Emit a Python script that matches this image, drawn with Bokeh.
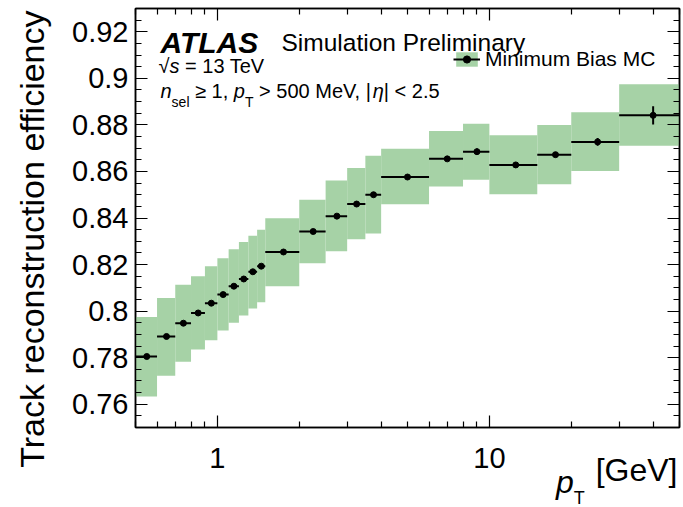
import math
from bokeh.plotting import figure
from bokeh.models import (Label, Legend, LegendItem, FixedTicker,
                          CustomJSTickFormatter, LogAxis, LinearAxis)
from bokeh.embed import file_html
from bokeh.resources import INLINE

# ---------------- data ----------------
bin_lo = [0.5, 0.6, 0.7, 0.8, 0.9, 1.0, 1.1, 1.2, 1.3, 1.4, 1.5, 2.0, 2.5, 3.0, 3.5,
          4.0, 6.0, 8.0, 10.0, 15.0, 20.0, 30.0]
bin_hi = [0.6, 0.7, 0.8, 0.9, 1.0, 1.1, 1.2, 1.3, 1.4, 1.5, 2.0, 2.5, 3.0, 3.5, 4.0,
          6.0, 8.0, 10.0, 15.0, 20.0, 30.0, 50.0]
efficiency = [0.7805, 0.7891, 0.7948, 0.7992, 0.8034, 0.8071, 0.8107, 0.8138, 0.8169,
              0.8193, 0.8254, 0.8342, 0.8408, 0.8460, 0.8500, 0.8576, 0.8654, 0.8685,
              0.8628, 0.8672, 0.8727, 0.8841]
syst_hi = [0.7975, 0.8056, 0.8113, 0.8150, 0.8193, 0.8227, 0.8266, 0.8297, 0.8324,
           0.8349, 0.8399, 0.8478, 0.8561, 0.8615, 0.8667, 0.8697, 0.8774, 0.8805,
           0.8756, 0.8800, 0.8854, 0.8975]
syst_lo = [0.7633, 0.7722, 0.7782, 0.7835, 0.7875, 0.7917, 0.7950, 0.7981, 0.8011,
           0.8038, 0.8107, 0.8206, 0.8257, 0.8309, 0.8333, 0.8459, 0.8535, 0.8564,
           0.8502, 0.8545, 0.8602, 0.8710]
stat_err = [0.0003, 0.0003, 0.0003, 0.0003, 0.0003, 0.0003, 0.0003, 0.0003, 0.0003,
            0.0003, 0.0003, 0.0003, 0.0003, 0.0004, 0.0004, 0.0004, 0.0006, 0.0014,
            0.0008, 0.0010, 0.0017, 0.0039]
y_ticks = [0.76, 0.78, 0.80, 0.82, 0.84, 0.86, 0.88, 0.90, 0.92]
y_minor = [round(0.75 + 0.005 * i, 3) for i in range(37)]
x_ticks = [1, 10]
x_minor = [0.5, 0.6, 0.7, 0.8, 0.9, 2, 3, 4, 5, 6, 7, 8, 9, 20, 30, 40, 50]
legend_label = "Minimum Bias MC"
y_title = "Track reconstruction efficiency"
x_title_unit = "[GeV]"

centers = [(a + b) / 2 for a, b in zip(bin_lo, bin_hi)]
err_lo = [e - s for e, s in zip(efficiency, stat_err)]
err_hi = [e + s for e, s in zip(efficiency, stat_err)]

GREEN = "#a6d2a6"
FONT = "Liberation Sans"
TICK_PX = 29
X_LO, X_HI = 0.5, 50
FRAME_L, FRAME_R = 135, 679

p = figure(width=683, height=507, x_axis_type="log", x_range=(X_LO, X_HI),
           y_range=(0.75, 0.93), output_backend="svg", toolbar_location=None,
           min_border_left=135, min_border_right=4, min_border_top=8,
           min_border_bottom=80, background_fill_color="white",
           border_fill_color="white")
p.grid.visible = False
p.outline_line_color = "black"
p.outline_line_width = 1.5

band = p.quad(left=bin_lo, right=bin_hi, bottom=syst_lo, top=syst_hi,
              fill_color=GREEN, line_color=None)
hseg = p.segment(x0=bin_lo, y0=efficiency, x1=bin_hi, y1=efficiency,
                 line_color="black", line_width=2)
vseg = p.segment(x0=centers, y0=err_lo, x1=centers, y1=err_hi,
                 line_color="black", line_width=2)
dots = p.scatter(x=centers, y=efficiency, size=6, fill_color="black",
                 line_color="black")

# ---------------- axes ----------------
def style_axis(ax, labels=True):
    ax.axis_line_color = "black"
    ax.axis_line_width = 1.5
    ax.major_tick_line_color = "black"
    ax.minor_tick_line_color = "black"
    ax.major_tick_line_width = 1.2
    ax.minor_tick_line_width = 1.2
    ax.major_tick_in = 12
    ax.major_tick_out = 0
    ax.minor_tick_in = 6
    ax.minor_tick_out = 0
    if labels:
        ax.major_label_text_font = FONT
        ax.major_label_text_font_size = f"{TICK_PX}px"
        ax.major_label_text_color = "black"
    else:
        ax.major_label_text_font_size = "1px"
        ax.major_label_text_alpha = 0
        ax.major_label_standoff = 0

p.xaxis.ticker = FixedTicker(ticks=x_ticks, minor_ticks=x_minor)
p.xaxis.formatter = CustomJSTickFormatter(code="return String(tick);")
p.yaxis.ticker = FixedTicker(ticks=y_ticks, minor_ticks=y_minor)
p.yaxis.formatter = CustomJSTickFormatter(
    code="return tick.toFixed(2).replace(/0$/, '');")
style_axis(p.xaxis[0])
style_axis(p.yaxis[0])
p.xaxis.major_label_standoff = 20
p.yaxis.major_label_standoff = 7

top_ax = LogAxis(ticker=FixedTicker(ticks=x_ticks, minor_ticks=x_minor))
style_axis(top_ax, labels=False)
p.add_layout(top_ax, "above")
right_ax = LinearAxis(ticker=FixedTicker(ticks=y_ticks, minor_ticks=y_minor))
style_axis(right_ax, labels=False)
p.add_layout(right_ax, "right")

# ---------------- text helpers ----------------
W = {' ': 278, ',': 278, '.': 278, '=': 584, '<': 584, '>': 584, '\u2265': 549,
     '|': 260, '[': 278, ']': 278, '\u221a': 549, '\u03b7': 556,
     'A': 667, 'B': 667, 'C': 722, 'G': 778, 'M': 833, 'P': 667, 'S': 667,
     'T': 611, 'V': 667, 'L': 556,
     'a': 556, 'e': 556, 'i': 222, 'l': 222, 'm': 833, 'n': 556, 'p': 556,
     'r': 333, 's': 500, 't': 278, 'u': 556, 'y': 500, 'o': 556}
for d in "0123456789":
    W[d] = 556


def text_width(s, size):
    return sum(W.get(c, 556) for c in s) * size / 1000.0


def make_label(x, y, txt, size, style="normal", align="left", angle=0.0):
    return Label(x=x, y=y, x_units="screen", y_units="screen", text=txt,
                 text_font=FONT, text_font_size=f"{size}px",
                 text_font_style=style, text_color="black",
                 text_baseline="alphabetic", text_align=align, angle=angle)


def add_runs(x, y, parts):
    for txt, size, style, dy in parts:
        lead = len(txt) - len(txt.lstrip(" "))
        core = txt.strip(" ")
        p.add_layout(make_label(x + text_width(" " * lead, size), y + dy, core,
                                size, style))
        x += text_width(txt, size)


def fy(py):
    return 507 - 80 - py


def fx(px):
    return px - FRAME_L


# ATLAS label block (inside the frame)
p.add_layout(make_label(fx(160), fy(42), "ATLAS", 30, "bold italic"))
p.add_layout(make_label(fx(281), fy(42), "Simulation Preliminary", 24.5))
add_runs(fx(158), fy(65), [("\u221a", 20, "normal", 0), ("s", 20, "italic", 0),
                           (" = 13 TeV", 20, "normal", 0)])
add_runs(fx(160), fy(90), [("n", 20, "italic", 0), ("sel", 14, "normal", -11),
                           (" \u2265 1, ", 20, "normal", 0), ("p", 20, "italic", 0),
                           ("T", 14, "normal", -11),
                           (" > 500 MeV, |", 20, "normal", 0),
                           ("\u03b7", 20, "italic", 0), ("| < 2.5", 20, "normal", 0)])

# ---------------- x title ----------------
XT_PX = 32
SUB_PX = 18
unit_w = text_width(x_title_unit, XT_PX)
unit_end = FRAME_R - 2
# the "[GeV]" part is the single label of an extra (invisible) bottom axis,
# pulled up to the tick-label row
unit_center_px = unit_end - unit_w / 2
unit_pos = 10 ** (math.log10(X_LO) + (unit_center_px - FRAME_L) / (FRAME_R - FRAME_L)
                  * (math.log10(X_HI) - math.log10(X_LO)))
unit_ax = LogAxis(ticker=FixedTicker(ticks=[unit_pos], minor_ticks=[]),
                  formatter=CustomJSTickFormatter(code=f"return '{x_title_unit}';"))
unit_ax.axis_line_alpha = 0
unit_ax.major_tick_in = 0
unit_ax.major_tick_out = 0
unit_ax.minor_tick_in = 0
unit_ax.minor_tick_out = 0
unit_ax.major_label_text_font = FONT
unit_ax.major_label_text_font_size = f"{XT_PX}px"
unit_ax.major_label_text_color = "black"
unit_ax.major_label_standoff = -19
p.add_layout(unit_ax, "below")

# "p" and subscript "T": labels kept in the left side panel (not clipped there)
Y_TITLE_PX = 34
ytitle_w = round(Y_TITLE_PX * 1.15)
p_w = round(text_width("p", XT_PX))
t_w = round(text_width("T", SUB_PX))
axis_w = 7 + round(text_width("0.92", TICK_PX))
ytitle_left = 135 - axis_w - ytitle_w
p_left = ytitle_left - p_w
t_left = p_left - t_w

p_x = unit_end - unit_w - text_width(" ", XT_PX) - text_width("T", SUB_PX) \
    - text_width("p", XT_PX)
p.add_layout(make_label(33 - ytitle_left, 427 - 10, y_title,
                        Y_TITLE_PX, align="right", angle=math.pi / 2), "left")
p.add_layout(make_label(p_x - p_left, 427 - 481, "p", XT_PX, "italic"), "left")
p.add_layout(make_label(p_x + text_width("p", XT_PX) - t_left, 427 - 497, "T",
                        SUB_PX), "left")

# legend
legend = Legend(items=[LegendItem(label=legend_label, renderers=[band, hseg, dots])],
                location=(fx(453), fy(71)), glyph_width=27, glyph_height=18,
                label_standoff=5, label_text_font=FONT, label_text_font_size="21px",
                label_text_color="black",
                label_height=18, padding=0, margin=0, spacing=0,
                border_line_alpha=0, background_fill_alpha=0)
p.add_layout(legend)

open("out.html", "w").write(file_html(p, INLINE))
